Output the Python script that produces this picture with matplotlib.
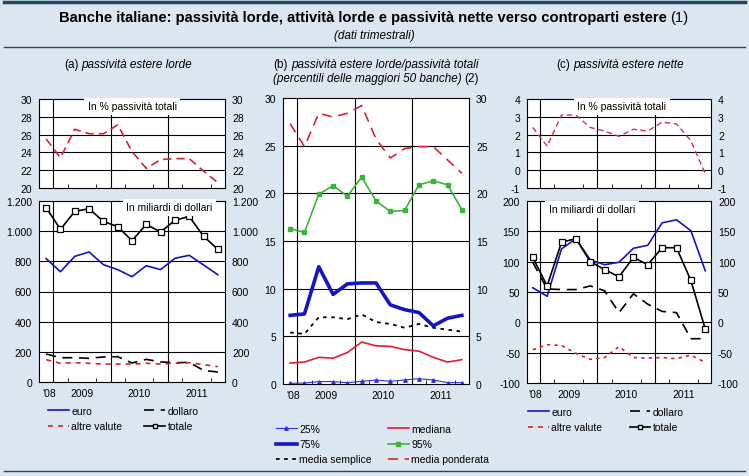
import numpy as np
import matplotlib
matplotlib.use("Agg")
from matplotlib import pyplot as plt
from matplotlib.lines import Line2D
from matplotlib.ticker import FuncFormatter

plt.rcParams['font.family'] = ['Liberation Sans', 'DejaVu Sans']
plt.rcParams['axes.unicode_minus'] = False

BG = '#dce6f0'
RULE = '#1f4a66'
BLUE = '#1414c8'
RED = '#e0202c'
GREEN = '#3cb43c'
FS = 7.5

# trimestri: 2008 T4 ... 2011 T4
quarters = np.arange(13)
year_labels = ["'08", '2009', '2010', '2011']
year_label_pos = [0.2, 2.5, 6.5, 10.5]
year_bounds = [0.5, 4.5, 8.5]

# (a) passività estere lorde
a_quota = [25.5, 23.4, 26.6, 26.1, 26.1, 27.1, 24.1, 22.2, 23.2, 23.3, 23.3, 21.9, 20.6]
a_euro = [818, 731, 833, 862, 778, 745, 698, 771, 745, 820, 840, 776, 711]
a_dollaro = [186, 161, 161, 157, 166, 168, 126, 150, 133, 128, 130, 77, 66]
a_altre = [148, 124, 128, 124, 119, 119, 119, 124, 119, 124, 128, 115, 102]
a_totale = [1156, 1012, 1131, 1149, 1065, 1030, 937, 1045, 994, 1072, 1098, 966, 880]

# (b) passività estere lorde / passività totali (percentili)
b_p25 = [0.07, 0.1, 0.25, 0.25, 0.14, 0.28, 0.42, 0.28, 0.42, 0.56, 0.42, 0.14, 0.14]
b_p75 = [7.2, 7.35, 12.3, 9.4, 10.5, 10.6, 10.6, 8.3, 7.8, 7.5, 6.1, 6.9, 7.2]
b_semplice = [5.4, 5.25, 7.0, 7.0, 6.8, 7.3, 6.5, 6.3, 5.9, 6.3, 5.9, 5.7, 5.5]
b_mediana = [2.2, 2.3, 2.8, 2.7, 3.3, 4.4, 4.0, 3.95, 3.6, 3.45, 2.8, 2.3, 2.55]
b_p95 = [16.3, 15.9, 19.9, 20.8, 19.7, 21.7, 19.2, 18.1, 18.2, 20.9, 21.3, 20.9, 18.3]
b_ponderata = [27.3, 24.9, 28.4, 28.0, 28.4, 29.2, 25.7, 23.7, 24.7, 24.9, 24.9, 23.5, 22.1]

# (c) passività estere nette
c_quota = [2.4, 1.35, 3.1, 3.1, 2.4, 2.2, 1.9, 2.3, 2.2, 2.7, 2.6, 1.65, -0.2]
c_euro = [57, 43, 121, 138, 103, 95, 99, 122, 127, 164, 169, 151, 85]
c_dollaro = [99, 55, 54, 54, 60, 52, 16, 47, 30, 18, 16, -27, -27]
c_altre = [-45, -37, -38, -51, -61, -58, -40, -58, -59, -58, -60, -54, -66]
c_totale = [107, 60, 132, 138, 100, 87, 75, 107, 95, 123, 123, 69, -11]


def px_rect(x0, y0, x1, y1):
    # rettangolo in pixel (origine in alto a sinistra) -> frazioni della figura
    return [x0 / 749, 1 - y1 / 477, (x1 - x0) / 749, (y1 - y0) / 477]


def setup_axes(ax, ylim, yticks, xlabels=True, fmt=None, xlim=(-0.5, 12.5)):
    ax.set_facecolor('white')
    ax.set_xlim(*xlim)
    ax.set_ylim(*ylim)
    ax.set_yticks(yticks)
    for y in yticks[1:-1]:
        ax.axhline(y, color='black', lw=0.8, zorder=1)
    for x in year_bounds:
        ax.axvline(x, color='black', lw=0.8, zorder=1)
    ax.set_xticks(year_label_pos)
    ax.set_xticklabels(year_labels if xlabels else [])
    ax.set_xticks(np.arange(0.5, 12.5, 1), minor=True)
    ax.tick_params(axis='x', which='major', length=0, labelsize=FS, pad=4)
    ax.tick_params(axis='x', which='minor', length=3, direction='in', width=0.6)
    ax.tick_params(axis='y', length=0, labelsize=FS, labelright=True, pad=5)
    if fmt is not None:
        ax.yaxis.set_major_formatter(fmt)
    for s in ax.spines.values():
        s.set_linewidth(0.8)


def box_label(ax, x, y, s):
    ax.text(x, y, s, transform=ax.transAxes, ha='center', va='center', fontsize=FS,
            bbox=dict(fc='white', ec='none', pad=2.5), zorder=5, clip_on=False)


def centered_parts(fig, xc, y, parts, gap=3):
    r = fig.canvas.get_renderer()
    texts = [fig.text(0, y, s, va='center', **p) for s, p in parts]
    widths = [t.get_window_extent(r).width / fig.bbox.width for t in texts]
    g = gap / fig.bbox.width
    x = xc - (sum(widths) + g * (len(texts) - 1)) / 2
    for t, w in zip(texts, widths):
        t.set_x(x)
        x += w + g


thousands = FuncFormatter(lambda v, p: f'{int(v):,}'.replace(',', '.'))

fig = plt.figure(figsize=(7.49, 4.77), dpi=100, facecolor=BG)

# ---- (a) ----
ax_at = fig.add_axes(px_rect(39, 100, 225, 189))
setup_axes(ax_at, (20, 30), [20, 22, 24, 26, 28, 30], xlabels=False)
ax_at.plot(quarters, a_quota, color=RED, lw=1.2, dashes=(5, 3))
box_label(ax_at, 0.5, 0.92, 'In % passività totali')

ax_ab = fig.add_axes(px_rect(39, 202, 225, 383))
setup_axes(ax_ab, (0, 1200), list(range(0, 1201, 200)), fmt=thousands)
ax_ab.plot(quarters, a_euro, color=BLUE, lw=1.2)
ax_ab.plot(quarters, a_dollaro, color='black', lw=1.2, dashes=(6, 4))
ax_ab.plot(quarters, a_altre, color=RED, lw=1.2, dashes=(3, 3))
ax_ab.plot(quarters, a_totale, color='black', lw=1.2, marker='s', ms=4,
           mfc='white', mec='black', mew=0.9)
box_label(ax_ab, 0.70, 0.965, 'In miliardi di dollari')

# ---- (b) ----
ax_b = fig.add_axes(px_rect(283, 99, 469, 385))
setup_axes(ax_b, (0, 30), [0, 5, 10, 15, 20, 25, 30])
ax_b.plot(quarters, b_ponderata, color=RED, lw=1.2, dashes=(6, 4))
ax_b.plot(quarters, b_p95, color=GREEN, lw=1.2, marker='s', ms=3.5)
ax_b.plot(quarters, b_p75, color=BLUE, lw=2.6)
ax_b.plot(quarters, b_semplice, color='black', lw=1.3, dashes=(2, 2.5))
ax_b.plot(quarters, b_mediana, color=RED, lw=1.2)
ax_b.plot(quarters, b_p25, color='#3030e0', lw=0.8, marker='^', ms=2.5)

# ---- (c) ----
ax_ct = fig.add_axes(px_rect(527, 100, 711, 189))
setup_axes(ax_ct, (-1, 4), [-1, 0, 1, 2, 3, 4], xlabels=False, xlim=(-0.4, 12.4))
ax_ct.plot(quarters, c_quota, color='#d8304c', lw=1.0, dashes=(4, 2.5))
box_label(ax_ct, 0.516, 0.92, 'In % passività totali')

ax_cb = fig.add_axes(px_rect(527, 202, 711, 384))
setup_axes(ax_cb, (-100, 200), list(range(-100, 201, 50)), xlim=(-0.4, 12.4))
ax_cb.plot(quarters, c_euro, color=BLUE, lw=1.2)
ax_cb.plot(quarters, c_dollaro, color='black', lw=1.2, dashes=(6, 4))
ax_cb.plot(quarters, c_altre, color=RED, lw=1.2, dashes=(2, 2.5))
ax_cb.plot(quarters, c_totale, color='black', lw=1.2, marker='s', ms=4,
           mfc='white', mec='black', mew=0.9)
box_label(ax_cb, 0.353, 0.955, 'In miliardi di dollari')

# ---- legende ----
h_euro = Line2D([], [], color=BLUE, lw=1.2)
h_dollaro = Line2D([], [], color='black', lw=1.2, dashes=(6, 4))
h_altre = Line2D([], [], color=RED, lw=1.2, dashes=(3, 3))
h_totale = Line2D([], [], color='black', lw=1.2, marker='s', ms=3.5, mfc='white', mec='black')
leg_kw = dict(frameon=False, fontsize=FS, loc='upper left', borderpad=0, borderaxespad=0,
              handlelength=2.0, handletextpad=0.25, labelspacing=0.5, ncol=2)

fig.legend([h_euro, h_altre, h_dollaro, h_totale], ['euro', 'altre valute', 'dollaro', 'totale'],
           bbox_to_anchor=(48 / 749, 1 - 407 / 477), columnspacing=2.1, **leg_kw)
fig.legend([h_euro, h_altre, h_dollaro, h_totale], ['euro', 'altre valute', 'dollaro', 'totale'],
           bbox_to_anchor=(528 / 749, 1 - 408 / 477), columnspacing=2.6, **leg_kw)

hb = [Line2D([], [], color='#3030e0', lw=0.8, marker='^', ms=2.5),
      Line2D([], [], color=BLUE, lw=2.6),
      Line2D([], [], color='black', lw=1.3, dashes=(2, 2.5)),
      Line2D([], [], color=RED, lw=1.2),
      Line2D([], [], color=GREEN, lw=1.2, marker='s', ms=3),
      Line2D([], [], color=RED, lw=1.2, dashes=(6, 4))]
fig.legend(hb, ['25%', '75%', 'media semplice', 'mediana', '95%', 'media ponderata'],
           bbox_to_anchor=(276 / 749, 1 - 425 / 477), columnspacing=1.5, **leg_kw)

# ---- titoli e filetti ----
for y, lw in [(3, 2.5), (48, 1.0), (472, 1.0)]:
    fig.add_artist(Line2D([0.005, 0.995], [1 - y / 477] * 2, transform=fig.transFigure,
                          color=RULE, lw=lw))

centered_parts(fig, 374 / 749, 1 - 18 / 477,
               [('Banche italiane: passività lorde, attività lorde e passività nette verso controparti estere',
                 dict(fontsize=10.6, fontweight='bold')),
                ('(1)', dict(fontsize=10.6))])
fig.text(374 / 749, 1 - 36 / 477, '(dati trimestrali)', ha='center', va='center',
         fontsize=8.5, style='italic')

sub = dict(fontsize=8.5)
it = dict(fontsize=8.5, style='italic')
centered_parts(fig, 128 / 749, 1 - 65 / 477, [('(a)', sub), ('passività estere lorde', it)])
centered_parts(fig, 376 / 749, 1 - 65 / 477, [('(b)', sub), ('passività estere lorde/passività totali', it)])
centered_parts(fig, 376 / 749, 1 - 79 / 477, [('(percentili delle maggiori 50 banche)', it), ('(2)', sub)])
centered_parts(fig, 620 / 749, 1 - 65 / 477, [('(c)', sub), ('passività estere nette', it)])

fig.savefig('out.png', dpi=100, facecolor=BG)
